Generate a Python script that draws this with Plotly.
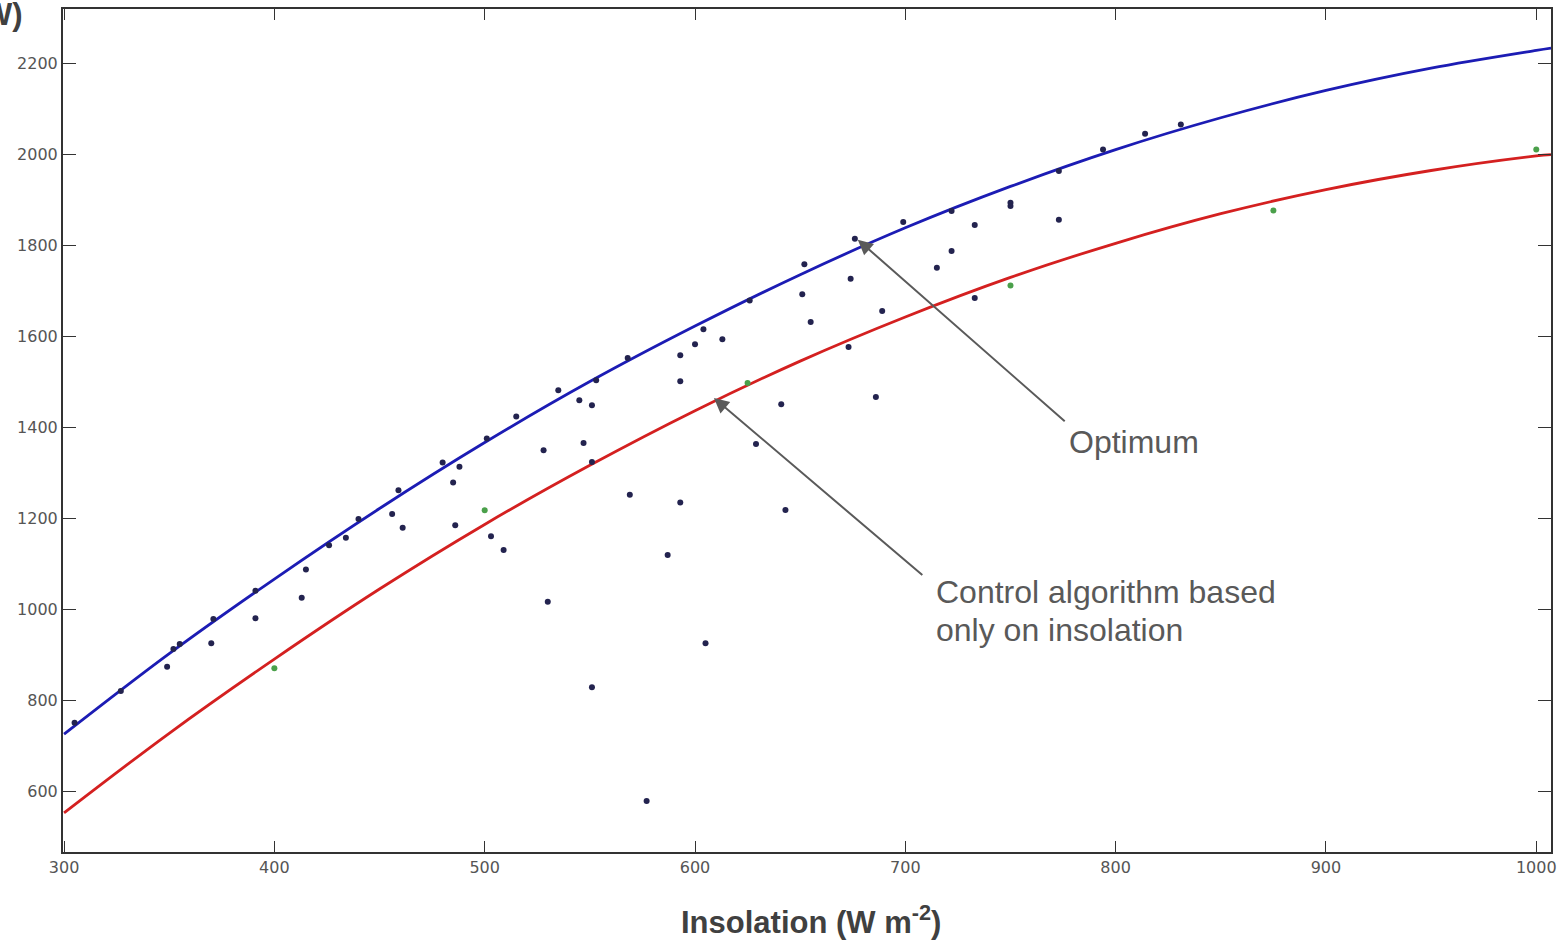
import plotly.graph_objects as go

# -----------------------------------------------------------------------------
# Data
# -----------------------------------------------------------------------------

# fitted curves, sampled every 50 W/m2
curve_x = [300, 350, 400, 450, 500, 550, 600, 650, 700, 750, 800, 850, 900, 950, 1000, 1007]
optimum_y = [725, 902, 1066, 1221, 1366, 1500, 1622, 1735, 1838, 1929, 2010, 2080, 2140, 2189, 2228, 2233]
control_y = [552, 727, 890, 1044, 1186, 1316, 1436, 1545, 1642, 1729, 1804, 1869, 1922, 1964, 1996, 1999]

# measured points (dark)
meas_x = [305, 327, 349, 352, 355, 370, 371, 391, 391, 413, 415, 426, 434, 440, 456, 459,
          461, 480, 485, 488, 486, 501, 503, 509, 515, 528, 530, 535, 545, 547, 551, 551,
          551, 553, 568, 569, 577, 587, 593, 593, 593, 600, 604, 605, 613, 626, 629, 641,
          643, 651, 652, 655, 673, 674, 676, 686, 689, 699, 715, 722, 722, 733, 733, 750,
          750, 773, 773, 794, 814, 831]
meas_y = [750, 820, 873, 912, 923, 925, 978, 980, 1040, 1025, 1087, 1140, 1157, 1198, 1209, 1261,
          1179, 1322, 1278, 1313, 1184, 1375, 1160, 1130, 1423, 1349, 1016, 1481, 1459, 1365, 1448, 1323,
          828, 1503, 1552, 1251, 578, 1119, 1558, 1501, 1234, 1582, 1615, 925, 1593, 1678, 1363, 1450,
          1218, 1692, 1758, 1631, 1576, 1726, 1814, 1466, 1655, 1851, 1750, 1875, 1787, 1844, 1684, 1893,
          1886, 1963, 1856, 2010, 2045, 2065]

# control algorithm points (green)
ctrl_x = [400, 500, 625, 750, 875, 1000]
ctrl_y = [870, 1217, 1497, 1711, 1876, 2010]

x_ticks = [300, 400, 500, 600, 700, 800, 900, 1000]
y_ticks = [600, 800, 1000, 1200, 1400, 1600, 1800, 2000, 2200]

# -----------------------------------------------------------------------------
# Figure
# -----------------------------------------------------------------------------

fig = go.Figure()

fig.add_trace(go.Scatter(x=curve_x, y=optimum_y, mode='lines', line_shape='spline',
                         line=dict(color='#1c1cb4', width=2.8), showlegend=False))
fig.add_trace(go.Scatter(x=curve_x, y=control_y, mode='lines', line_shape='spline',
                         line=dict(color='#d42020', width=2.8), showlegend=False))
fig.add_trace(go.Scatter(x=meas_x, y=meas_y, mode='markers',
                         marker=dict(color='#23234f', size=6, symbol='circle'), showlegend=False))
fig.add_trace(go.Scatter(x=ctrl_x, y=ctrl_y, mode='markers',
                         marker=dict(color='#4aa04a', size=6, symbol='circle'), showlegend=False))

arrow = dict(showarrow=True, arrowhead=2, arrowsize=1.5, arrowwidth=2, arrowcolor='#5a5a5a',
             axref='x', ayref='y', text='', standoff=0)
text_font = dict(family='Liberation Sans, Arial, sans-serif', size=32, color='#595959')
title_font = dict(family='Liberation Sans, Arial, sans-serif', size=31, color='#404040')
tick_font = dict(family='DejaVu Sans', size=16, color='#555555')

fig.update_layout(
    width=1564, height=944,
    margin=dict(l=63, r=13, t=7, b=92),
    paper_bgcolor='white', plot_bgcolor='white',
    xaxis=dict(range=[299.5, 1007], tickvals=x_ticks, ticks='inside', ticklen=11,
               tickcolor='#333', showgrid=False, zeroline=False, showline=True,
               linecolor='#333', linewidth=2, mirror='ticks', tickfont=tick_font),
    yaxis=dict(range=[466, 2319], tickvals=y_ticks, ticks='inside', ticklen=13,
               tickcolor='#333', showgrid=False, zeroline=False, showline=True,
               linecolor='#333', linewidth=2, mirror='ticks', tickfont=tick_font),
    annotations=[
        dict(x=677.4, y=1812, ax=776.5, ay=1410, **arrow),
        dict(x=609, y=1464, ax=708.8, ay=1072, **arrow),
        dict(x=777, y=1367, text='Optimum', showarrow=False, xanchor='left', yanchor='middle',
             font=text_font),
        dict(x=713.5, y=1038, text='Control algorithm based', showarrow=False, xanchor='left',
             yanchor='middle', font=text_font),
        dict(x=713.5, y=955, text='only on insolation', showarrow=False, xanchor='left',
             yanchor='middle', font=text_font),
        # axis titles
        dict(xref='paper', yref='paper', x=0.503, y=-0.081, showarrow=False,
             text='<b>Insolation (W m<sup>-2</sup>)</b>', xanchor='center', yanchor='middle',
             font=title_font),
        dict(xref='paper', yref='paper', x=-0.0258, y=0.993, showarrow=False,
             text='<b>Power (W)</b>', xanchor='right', yanchor='middle', font=title_font),
    ],
)

# drop the default page margin so the figure sits at the window's corner
fig.write_html("out.html", config={'displayModeBar': False},
               post_script="document.body.style.margin='0';")
